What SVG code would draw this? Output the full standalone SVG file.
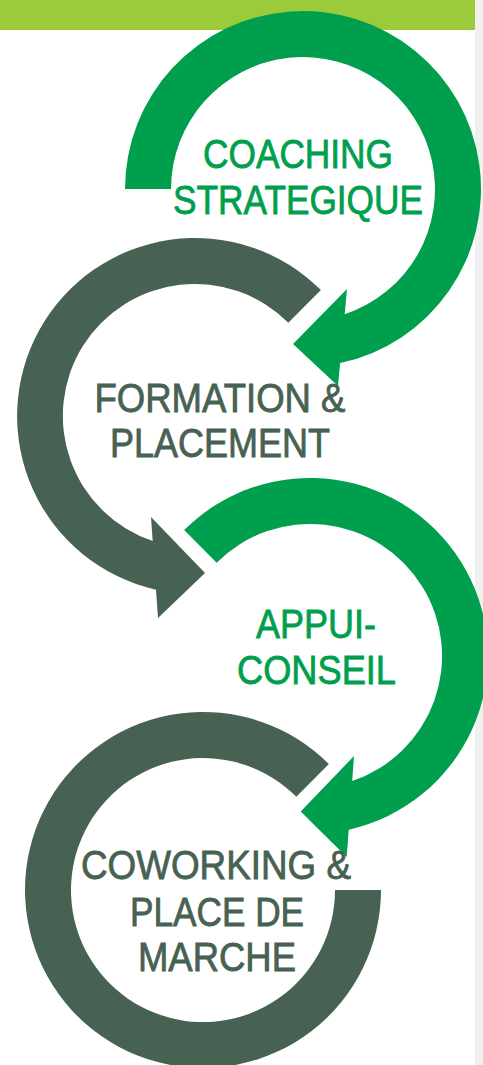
<svg xmlns="http://www.w3.org/2000/svg" width="483" height="1065" viewBox="0 0 483 1065">
<style>
.g{fill:#009F4D}
.d{fill:#476152}
.t{font-family:"Liberation Sans",Arial,sans-serif;font-size:40px;text-anchor:middle;stroke-width:0.8}
.tg{fill:#009F4D;stroke:#009F4D}
.td{fill:#476152;stroke:#476152}
</style>
<rect x="0" y="0" width="483" height="1065" fill="#ffffff"/>
<rect x="475" y="0" width="8" height="1065" fill="#F0F0F0"/>
<rect x="0" y="0" width="475" height="30" fill="#9BCB3B"/>
<g id="node-coaching">
<path class="g" d="M125,189 A178,178 0 1 1 340.1,363.1 L338,386 L293,344 L347,289 L344.7,314.3 A132,132 0 1 0 171,189 Z"/>
<text class="t tg" x="298" y="168" textLength="190" lengthAdjust="spacingAndGlyphs">COACHING</text>
<text class="t tg" x="298" y="214" textLength="250" lengthAdjust="spacingAndGlyphs">STRATEGIQUE</text>
</g>
<g id="node-formation">
<path class="d" d="M320.9,290.1 A178,178 0 1 0 156,589.7 L158,618 L205,573 L151,517 L152.7,541 A132,132 0 1 1 288.3,322.7 Z"/>
<text class="t td" x="220" y="412" textLength="251" lengthAdjust="spacingAndGlyphs">FORMATION &amp;</text>
<text class="t td" x="220" y="457" textLength="220" lengthAdjust="spacingAndGlyphs">PLACEMENT</text>
</g>
<g id="node-appui">
<path class="g" d="M184.1,530.1 A178,178 0 1 1 348.7,829.7 L346.7,857 L300.7,811.5 L354,756 L352.2,781.1 A132,132 0 1 0 216.7,562.7 Z"/>
<text class="t tg" x="316" y="638" textLength="120" lengthAdjust="spacingAndGlyphs">APPUI-</text>
<text class="t tg" x="316.5" y="684" textLength="159" lengthAdjust="spacingAndGlyphs">CONSEIL</text>
</g>
<g id="node-coworking">
<path class="d" d="M381,890 A178,178 0 1 1 328.9,764.1 L296.3,796.7 A132,132 0 1 0 335,890 Z"/>
<text class="t td" x="216" y="879" textLength="270" lengthAdjust="spacingAndGlyphs">COWORKING &amp;</text>
<text class="t td" x="217" y="926" textLength="174" lengthAdjust="spacingAndGlyphs">PLACE DE</text>
<text class="t td" x="217" y="971" textLength="158" lengthAdjust="spacingAndGlyphs">MARCHE</text>
</g>
<g id="connectors"></g>
</svg>
